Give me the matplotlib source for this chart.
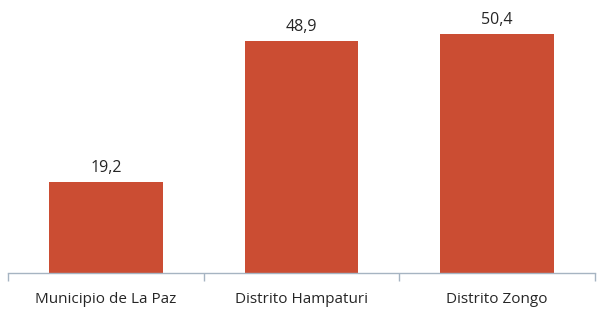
import matplotlib.pyplot as plt

categories = ["Municipio de La Paz", "Distrito Hampaturi", "Distrito Zongo"]
values = [19.2, 48.9, 50.4]
value_labels = ["19,2", "48,9", "50,4"]

plt.rcParams['font.family'] = ['Open Sans', 'DejaVu Sans']

fig = plt.figure(figsize=(6, 3.1), dpi=100)
ax = fig.add_axes([8 / 600, 37 / 310, 587 / 600, 273 / 310])

x = range(len(categories))
ax.bar(x, values, width=0.58, color='#CB4D33')

for xi, v, lab in zip(x, values, value_labels):
    ax.annotate(lab, (xi, v), xytext=(0, 4.5), textcoords='offset points',
                ha='center', va='bottom', fontsize=11.5, color='#262626')

ax.set_xlim(-0.5, len(categories) - 0.5)
ax.set_ylim(0, 57.6)

for s in ['top', 'right', 'left']:
    ax.spines[s].set_visible(False)
ax.spines['bottom'].set_color('#A6B4C2')
ax.spines['bottom'].set_linewidth(1.0)

ax.set_yticks([])
ax.set_xticks([-0.5, 0.5, 1.5, 2.5])
ax.set_xticklabels([])
ax.set_xticks(list(x), minor=True)
ax.set_xticklabels(categories, minor=True, fontsize=11, color='#262626')
ax.tick_params(axis='x', which='major', length=6, color='#A6B4C2', width=1.0)
ax.tick_params(axis='x', which='minor', length=0, pad=14)

plt.savefig('out.png', dpi=100)
plt.close()
